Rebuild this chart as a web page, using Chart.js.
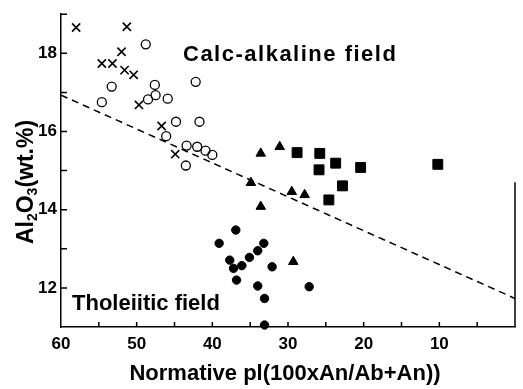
<!DOCTYPE html>
<html>
<head>
<meta charset="utf-8">
<script src="https://cdn.jsdelivr.net/npm/chart.js@4.4.1/dist/chart.umd.min.js"></script>
<style>
  body { margin: 0; background: #fff; }
  #c { display: block; }
</style>
</head>
<body>
<canvas id="c" width="523" height="389" style="width:523px;height:389px"></canvas>
<script>
// values (x = normative plagioclase An, y = Al2O3 wt.%)
const crossX = [58.0, 51.3, 52.0, 54.6, 53.2, 51.6, 50.4, 49.7, 46.7, 44.9];
const crossY = [18.66, 18.68, 18.04, 17.74, 17.74, 17.57, 17.45, 16.68, 16.14, 15.42];

const circleX = [48.8, 54.6, 53.3, 47.6, 47.5, 48.5, 45.9, 42.2, 44.8, 41.7, 46.1, 43.4, 42.0, 40.9, 40.0, 43.5];
const circleY = [18.23, 16.75, 17.15, 17.19, 16.93, 16.82, 16.84, 17.27, 16.25, 16.25, 15.88, 15.64, 15.61, 15.51, 15.40, 15.13];

const triX = [34.9, 33.6, 31.1, 29.5, 27.8, 33.6, 29.3];
const triY = [14.69, 15.44, 15.61, 14.46, 14.38, 14.08, 12.67];

const sqX = [28.8, 25.8, 23.7, 25.9, 20.4, 10.2, 22.8, 24.6];
const sqY = [15.46, 15.44, 15.19, 15.02, 15.08, 15.16, 14.61, 14.25];

const dotX = [36.9, 39.1, 33.2, 34.0, 35.1, 37.7, 37.2, 36.1, 32.1, 36.8, 34.0, 27.2, 33.1, 33.1];
const dotY = [13.48, 13.14, 13.14, 12.95, 12.78, 12.71, 12.50, 12.57, 12.54, 12.20, 12.05, 12.03, 11.73, 11.05];

// dividing line between the two fields
const lineX = [60, 0];
const lineY = [16.93, 11.73];

const xTickLabels = [60, 50, 40, 30, 20, 10];
const yTickLabels = [12, 14, 16, 18];

const FONT = "'Liberation Sans', Arial, sans-serif";

function pts(xs, ys) {
    return xs.map((x, i) => ({ x: x, y: ys[i] }));
}

// inward tick marks, partial right frame and the text labels
const extras = {
    id: 'extras',
    afterDraw(chart) {
        const ctx = chart.ctx;
        const xs = chart.scales.x, ys = chart.scales.y;
        const a = chart.chartArea;
        ctx.save();
        ctx.strokeStyle = '#000';
        ctx.lineWidth = 1.5;
        ctx.beginPath();
        for (let v = 5; v <= 55; v += 5) {
            const px = xs.getPixelForValue(v);
            ctx.moveTo(px, a.bottom);
            ctx.lineTo(px, a.bottom - 5);
        }
        for (let v = 12; v <= 19; v++) {
            const py = ys.getPixelForValue(v);
            ctx.moveTo(a.left, py);
            ctx.lineTo(a.left + 6, py);
        }
        // right side only drawn on lower part
        ctx.moveTo(a.right, ys.getPixelForValue(14.7));
        ctx.lineTo(a.right, a.bottom);
        ctx.stroke();

        ctx.fillStyle = '#000';
        ctx.textBaseline = 'alphabetic';
        ctx.textAlign = 'left';
        ctx.font = 'bold 22px ' + FONT;
        ctx.letterSpacing = '1.5px';
        ctx.fillText('Calc-alkaline field', 183, 61);
        ctx.letterSpacing = '0px';
        ctx.fillText('Tholeiitic field', 72, 310);

        ctx.textAlign = 'center';
        ctx.fillText('Normative pl(100xAn/Ab+An))', 285, 380);

        // y title with subscripts
        const parts = [['Al', 0], ['2', 1], ['O', 0], ['3', 1], ['(wt.%)', 0]];
        const big = 'bold 23px ' + FONT, small = 'bold 14px ' + FONT;
        let total = 0;
        parts.forEach(p => { ctx.font = p[1] ? small : big; total += ctx.measureText(p[0]).width; });
        ctx.translate(33, 182);
        ctx.rotate(-Math.PI / 2);
        ctx.textAlign = 'left';
        let cx = -total / 2;
        parts.forEach(p => {
            ctx.font = p[1] ? small : big;
            ctx.fillText(p[0], cx, p[1] ? 4 : 0);
            cx += ctx.measureText(p[0]).width;
        });
        ctx.restore();
    }
};

new Chart(document.getElementById('c'), {
    type: 'scatter',
    data: {
        datasets: [
            {
                data: pts(crossX, crossY), pointStyle: 'crossRot', pointRadius: 5.8,
                borderColor: '#000', borderWidth: 1.6, clip: false
            },
            {
                data: pts(circleX, circleY), pointStyle: 'circle', pointRadius: 4.5,
                borderColor: '#000', backgroundColor: 'rgba(0,0,0,0)', borderWidth: 1.3, clip: false
            },
            {
                data: pts(triX, triY), pointStyle: 'triangle', pointRadius: 5.5,
                borderColor: '#000', backgroundColor: '#000', borderWidth: 1, clip: false
            },
            {
                data: pts(sqX, sqY), pointStyle: 'rect', pointRadius: 7,
                borderColor: '#000', backgroundColor: '#000', borderWidth: 1, clip: false
            },
            {
                data: pts(dotX, dotY), pointStyle: 'circle', pointRadius: 4.2,
                borderColor: '#000', backgroundColor: '#000', borderWidth: 1, clip: false
            },
            {
                type: 'line', data: pts(lineX, lineY), showLine: true, pointRadius: 0,
                borderColor: '#000', borderWidth: 1.5, borderDash: [7, 5], fill: false
            }
        ]
    },
    options: {
        responsive: false,
        devicePixelRatio: 1,
        animation: false,
        events: [],
        layout: { padding: { top: 14, right: 2, left: 0, bottom: 0 } },
        plugins: { legend: { display: false }, tooltip: { enabled: false } },
        scales: {
            x: {
                type: 'linear', reverse: true, min: 0, max: 60, position: 'bottom',
                grid: { display: false, drawTicks: false },
                border: { display: true, color: '#000', width: 1.5 },
                ticks: {
                    stepSize: 10, autoSkip: false, maxRotation: 0, padding: 7, color: '#000',
                    font: { family: FONT, size: 17, weight: 'bold' },
                    callback: v => xTickLabels.includes(v) ? String(v) : ''
                },
                afterFit: s => { s.height = 62; }
            },
            y: {
                type: 'linear', min: 11, max: 19,
                grid: { display: false, drawTicks: false },
                border: { display: true, color: '#000', width: 1.5 },
                ticks: {
                    stepSize: 1, autoSkip: false, padding: 4, color: '#000',
                    font: { family: FONT, size: 17, weight: 'bold' },
                    callback: v => yTickLabels.includes(v) ? String(v) : ''
                },
                afterFit: s => { s.width = 61; }
            }
        }
    },
    plugins: [extras]
});
</script>
</body>
</html>
